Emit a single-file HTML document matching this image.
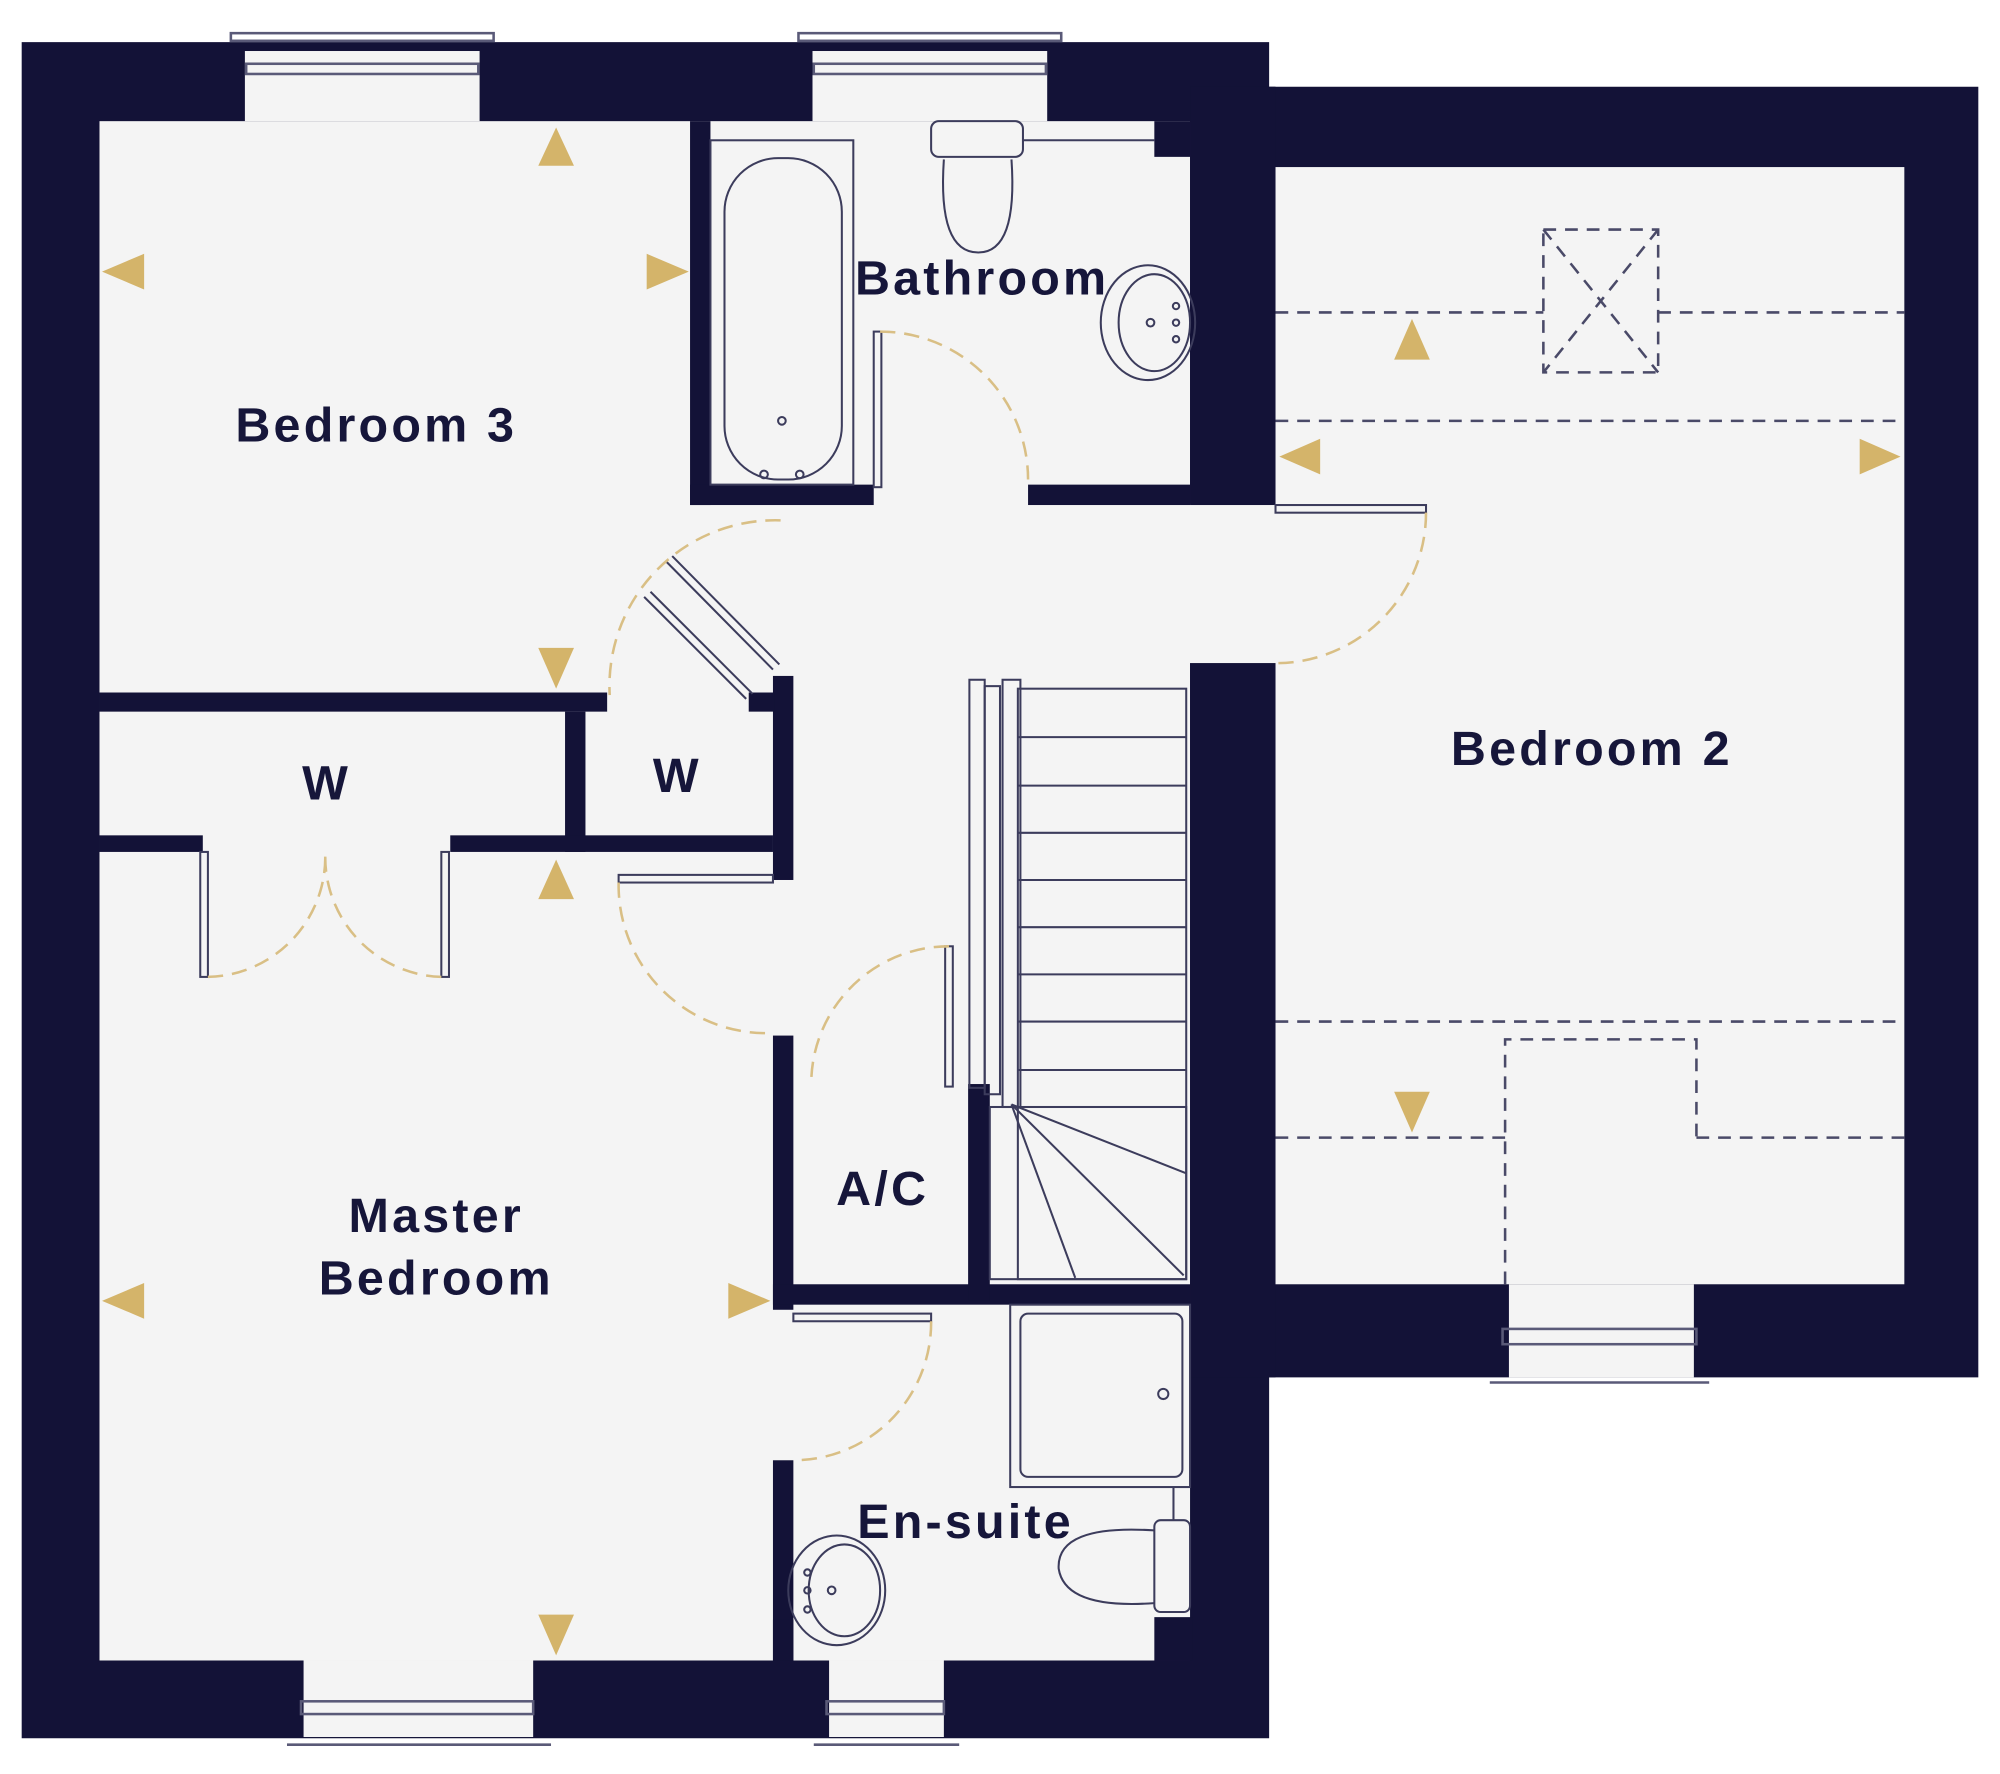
<!DOCTYPE html>
<html><head><meta charset="utf-8"><style>
html,body{margin:0;padding:0;background:#fff}
svg{display:block}
text{font-family:"Liberation Sans",sans-serif;font-weight:bold;fill:#16163a;text-anchor:middle;letter-spacing:2.5px}
</style></head><body>
<svg width="2000" height="1774" viewBox="0 0 1568 1391" preserveAspectRatio="none" xmlns="http://www.w3.org/2000/svg">
<rect width="1568" height="1391" fill="#fff"/>
<polygon points="17,33 995,33 995,68 1551,68 1551,1080 995,1080 995,1363 17,1363" fill="#131237"/>
<g fill="#f4f4f4">
<rect x="78" y="95" width="855" height="1207"/>
<rect x="1000" y="131" width="493" height="876"/>
<rect x="930" y="396" width="75" height="124"/>
<rect x="192" y="40" width="184" height="55"/>
<rect x="637" y="40" width="184" height="55"/>
<rect x="1183" y="1007" width="145" height="73"/>
<rect x="238" y="1302" width="180" height="60"/>
<rect x="650" y="1302" width="90" height="60"/>
</g>
<g fill="none" stroke="#5a5a78" stroke-width="2">
<rect x="181" y="26" width="206" height="6"/><rect x="193" y="50" width="182" height="8"/>
<rect x="626" y="26" width="206" height="6"/><rect x="638" y="50" width="182" height="8"/>
<rect x="1178" y="1042" width="152" height="12"/><line x1="1168" y1="1084" x2="1340" y2="1084"/>
<rect x="236" y="1334" width="182" height="10"/><line x1="225" y1="1368" x2="432" y2="1368"/>
<rect x="648" y="1334" width="92" height="10"/><line x1="638" y1="1368" x2="752" y2="1368"/>
</g>
<g fill="#131237">
<rect x="541" y="95" width="16" height="301"/>
<rect x="541" y="380" width="144" height="16"/>
<rect x="806" y="380" width="127" height="16"/>
<rect x="905" y="95" width="28" height="28"/>
<rect x="933" y="68" width="67" height="327"/>
<rect x="933" y="520" width="67" height="560"/>
<rect x="78" y="543" width="398" height="15"/>
<rect x="443" y="558" width="16" height="110"/>
<rect x="78" y="655" width="81" height="13"/>
<rect x="353" y="655" width="253" height="13"/>
<rect x="606" y="530" width="16" height="160"/>
<rect x="587" y="543" width="20" height="15"/>
<rect x="606" y="812" width="16" height="215"/>
<rect x="606" y="1007" width="327" height="16"/>
<rect x="759" y="850" width="17" height="170"/>
<rect x="606" y="1145" width="16" height="157"/>
<rect x="905" y="1268" width="30" height="34"/>
<rect x="606" y="1270" width="16" height="32"/>
</g>
<g fill="none" stroke="#3c3c5c" stroke-width="1.6">
<rect x="685" y="260" width="6" height="122"/>
<rect x="485" y="686" width="121" height="6"/>
<rect x="622" y="1030" width="108" height="6"/>
<rect x="1000" y="396" width="118" height="6"/>
<rect x="741" y="742" width="6" height="110"/>
<rect x="157" y="668" width="6" height="98"/>
<rect x="346" y="668" width="6" height="98"/>
<line x1="522" y1="440" x2="606" y2="525"/><line x1="527" y1="436" x2="611" y2="521"/>
<line x1="505" y1="468" x2="585" y2="548"/><line x1="510" y1="464" x2="590" y2="544"/>
<rect x="760" y="533" width="12" height="320"/>
<rect x="772" y="538" width="12" height="320"/>
<rect x="786" y="533" width="14" height="335"/>
<rect x="798" y="540" width="132" height="463"/>
<line x1="798" y1="578" x2="930" y2="578"/><line x1="798" y1="616" x2="930" y2="616"/>
<line x1="798" y1="653" x2="930" y2="653"/><line x1="798" y1="690" x2="930" y2="690"/>
<line x1="798" y1="727" x2="930" y2="727"/><line x1="798" y1="764" x2="930" y2="764"/>
<line x1="798" y1="801" x2="930" y2="801"/><line x1="798" y1="839" x2="930" y2="839"/>
<line x1="793" y1="866" x2="930" y2="920"/><line x1="793" y1="866" x2="928" y2="1000"/>
<line x1="793" y1="866" x2="843" y2="1002"/>
<rect x="776" y="868" width="154" height="135"/>
<rect x="557" y="110" width="112" height="270"/>
<rect x="568" y="124" width="92" height="252" rx="42"/>
<circle cx="613" cy="330" r="3"/><circle cx="599" cy="372" r="3"/><circle cx="627" cy="372" r="3"/>
<rect x="730" y="95" width="72" height="28" rx="6"/>
<path d="M740 125 Q735 198 767 198 Q798 198 793 125"/>
<line x1="802" y1="110" x2="905" y2="110"/>
<ellipse cx="900" cy="253" rx="37" ry="45"/><ellipse cx="905" cy="253" rx="28" ry="38"/>
<circle cx="902" cy="253" r="3"/><circle cx="922" cy="240" r="2.5"/><circle cx="922" cy="253" r="2.5"/><circle cx="922" cy="266" r="2.5"/>
<rect x="792" y="1023" width="141" height="143"/>
<rect x="800" y="1030" width="127" height="128" rx="6"/>
<circle cx="912" cy="1093" r="4"/>
<rect x="905" y="1192" width="28" height="72" rx="5"/>
<path d="M905 1200 Q828 1195 830 1230 Q835 1262 905 1257"/>
<line x1="920" y1="1166" x2="920" y2="1192"/>
<ellipse cx="656" cy="1247" rx="38" ry="43"/><ellipse cx="662" cy="1247" rx="28" ry="36"/>
<circle cx="652" cy="1247" r="3"/><circle cx="633" cy="1233" r="2.5"/><circle cx="633" cy="1247" r="2.5"/><circle cx="633" cy="1262" r="2.5"/>
</g>
<g fill="none" stroke="#d9bf85" stroke-width="2" stroke-dasharray="12,7">
<path d="M690 260 A116 116 0 0 1 806 376"/>
<path d="M612 408 A130 130 0 0 0 478 545"/>
<path d="M1118 402 A118 118 0 0 1 1000 520"/>
<path d="M485 692 A116 116 0 0 0 606 810"/>
<path d="M744 742 A108 108 0 0 0 636 850"/>
<path d="M730 1036 A108 108 0 0 1 622 1145"/>
<path d="M163 766 A94 94 0 0 0 255 670"/>
<path d="M346 766 A94 94 0 0 1 255 670"/>
</g>
<g fill="none" stroke="#4a4a68" stroke-width="2" stroke-dasharray="10,7">
<line x1="1000" y1="245" x2="1210" y2="245"/><line x1="1300" y1="245" x2="1493" y2="245"/>
<line x1="1000" y1="330" x2="1493" y2="330"/>
<line x1="1000" y1="801" x2="1493" y2="801"/>
<line x1="1000" y1="892" x2="1180" y2="892"/><line x1="1330" y1="892" x2="1493" y2="892"/>
<polyline points="1180,1007 1180,815 1330,815 1330,892"/>
<rect x="1210" y="180" width="90" height="112"/>
<line x1="1210" y1="180" x2="1300" y2="292"/><line x1="1300" y1="180" x2="1210" y2="292"/>
</g>
<g fill="#d4b46a">
<polygon points="436,100 422,130 450,130"/><polygon points="80,213 113,199 113,227"/>
<polygon points="540,213 507,199 507,227"/><polygon points="436,540 422,508 450,508"/>
<polygon points="436,674 422,705 450,705"/><polygon points="80,1020 113,1006 113,1034"/>
<polygon points="604,1020 571,1006 571,1034"/><polygon points="436,1298 422,1266 450,1266"/>
<polygon points="1107,250 1093,282 1121,282"/><polygon points="1003,358 1035,344 1035,372"/>
<polygon points="1490,358 1458,344 1458,372"/><polygon points="1107,888 1093,856 1121,856"/>
</g>
<g font-size="38">
<text x="295" y="346">Bedroom 3</text>
<text x="770" y="231">Bathroom</text>
<text x="256" y="627">W</text>
<text x="531" y="621">W</text>
<text x="1248" y="600">Bedroom 2</text>
<text x="692" y="945">A/C</text>
<text x="342" y="966">Master</text>
<text x="342" y="1015">Bedroom</text>
<text x="757" y="1206">En-suite</text>
</g>
</svg>
</body></html>
